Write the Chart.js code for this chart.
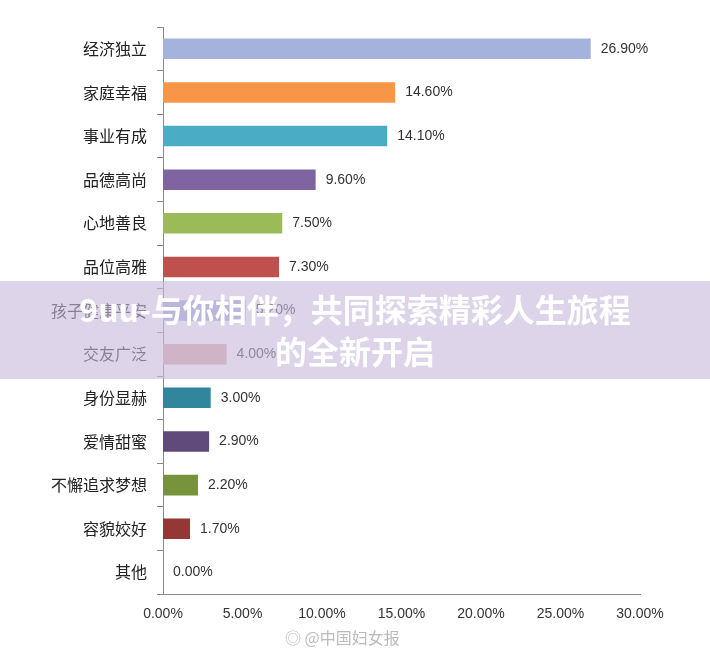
<!DOCTYPE html>
<html><head><meta charset="utf-8">
<script src="https://cdn.jsdelivr.net/npm/chart.js@4"></script>
<style>
body{margin:0;background:#fff;font-family:"Noto Sans CJK SC",sans-serif}
#w{position:relative;width:710px;height:655px}
#band{position:absolute;left:0;top:281px;width:710px;height:98px;background:rgba(200,185,220,0.62);color:#fff;font-weight:bold;font-size:32px;line-height:42px;text-align:center;padding-top:6px;box-sizing:border-box}
#wm{position:absolute;left:285px;top:625px;color:#bbb;font-size:16px}
</style></head><body>
<div id="w"><canvas id="c" width="710" height="655"></canvas>
<div id="band">9uu-与你相伴，共同探索精彩人生旅程<br>的全新开启</div>
<div id="wm">◎ @中国妇女报</div></div>
<script>
const CATS = ['经济独立','家庭幸福','事业有成','品德高尚','心地善良','品位高雅','孩子健康平安','交友广泛','身份显赫','爱情甜蜜','不懈追求梦想','容貌姣好','其他'];
const VALS = [26.9,14.6,14.1,9.6,7.5,7.3,5.2,4.0,3.0,2.9,2.2,1.7,0.0];
const COLS = ['#A5B3DC','#F79646','#4BACC6','#8064A2','#9BBB59','#C0504D','#A5B3DC','#D9A8A4','#31859C','#604A7B','#77933C','#953735','#A5B3DC'];
const TICKS = [0,5,10,15,20,25,30];

const labelPlugin = {
  id: 'lbl',
  afterDatasetsDraw(ch) {
    const ctx = ch.ctx;
    ctx.save();
    ctx.font = '14px "Liberation Sans", Arial';
    ctx.fillStyle = '#333';
    ctx.textBaseline = 'middle';
    ch.getDatasetMeta(0).data.forEach((b, i) => {
      ctx.fillText(VALS[i].toFixed(2) + '%', b.x + 10, b.y);
    });
    ctx.restore();
  }
};

new Chart(document.getElementById('c'), {
  type: 'bar',
  data: { labels: CATS, datasets: [{ data: VALS, backgroundColor: COLS, barPercentage: 0.47, categoryPercentage: 1 }] },
  options: {
    indexAxis: 'y', responsive: false, animation: false,
    layout: { padding: { left: 41, right: 70, top: 27, bottom: 26 } },
    plugins: { legend: { display: false }, tooltip: { enabled: false } },
    scales: {
      x: { min: 0, max: 30,
        afterBuildTicks: a => { a.ticks = TICKS.map(v => ({ value: v })); },
        grid: { display: false, drawTicks: true, tickLength: 6 },
        border: { color: '#888' },
        ticks: { color: '#333', font: { size: 14, family: '"Liberation Sans", Arial' }, padding: 6, callback: v => v.toFixed(2) + '%' } },
      y: { grid: { display: true, drawOnChartArea: false, offset: true, tickLength: 6, color: '#888' },
        border: { color: '#888' },
        ticks: { color: '#222', font: { size: 16, family: '"Noto Sans CJK SC"' }, padding: 10 } }
    }
  },
  plugins: [labelPlugin]
});
</script></body></html>
